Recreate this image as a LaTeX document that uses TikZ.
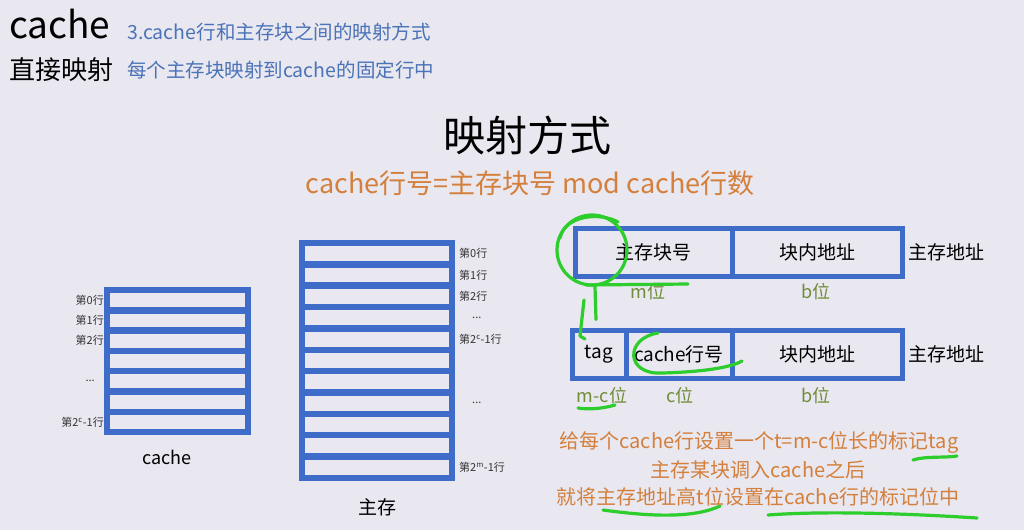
\documentclass[tikz,border=0pt]{standalone}
\usepackage{fontspec}
\setmainfont{Noto Sans CJK SC}
\usetikzlibrary{positioning}
\definecolor{bgcol}{RGB}{233,231,239}
\definecolor{boxblue}{RGB}{62,108,200}
\definecolor{txtblue}{RGB}{74,115,184}
\definecolor{txtorange}{RGB}{212,128,60}
\definecolor{txtolive}{RGB}{112,140,58}
\definecolor{pengreen}{RGB}{45,205,45}
\newcommand{\fs}[1]{\fontsize{#1}{#1}\selectfont}

\begin{document}
\begin{tikzpicture}[x=1pt,y=-1pt,node distance=3pt,
    rowbox/.style={draw=boxblue,line width=6.5pt,inner sep=0pt,outer sep=0pt},
    field/.style={draw=boxblue,line width=5pt,inner sep=0pt,outer sep=0pt,minimum height=48pt,font=\fs{19}},
    rowlabel/.style={inner sep=0pt,font=\fs{11},text=black!80},
    bits/.style={inner sep=0pt,font=\fs{18},text=txtolive},
    note/.style={inner sep=0pt,font=\fs{20},text=txtorange},
    greenpen/.style={draw=pengreen,line width=3.2pt,line cap=round,line join=round}]

    \useasboundingbox[fill=bgcol] (0,0) rectangle (1024,530);

    % heading
    \node[anchor=west,inner sep=0pt,font=\fs{37}] (cachehd) at (9,24) {cache};
    \node[anchor=west,inner sep=0pt,font=\fs{19.5},text=txtblue] (sub1) at (127,32) {3.cache行和主存块之间的映射方式};
    \node[anchor=west,inner sep=0pt,font=\fs{26}] (direct) at (9,70) {直接映射};
    \node[anchor=west,inner sep=0pt,font=\fs{19.5},text=txtblue] (sub2) at (127,70) {每个主存块映射到cache的固定行中};

    \node[inner sep=0pt,font=\fs{42}] (title) at (527,135) {映射方式};
    \node[inner sep=0pt,font=\fs{27},text=txtorange] (rule) at (530,183) {cache行号=主存块号 mod cache行数};

    % cache
    \foreach \i in {0,...,6}
        \node[rowbox,minimum width=141pt,minimum height=20.3pt] (c\i) at (177.5,{290+20.3*(\i+0.5)}) {};
    \node[rowlabel,left=of c0] {第0行};
    \node[rowlabel,left=of c1] {第1行};
    \node[rowlabel,left=of c2] {第2行};
    \node[rowlabel,left=12pt of c4] {...};
    \node[rowlabel,left=of c6] {第2\textsuperscript{c}-1行};
    \node[inner sep=0pt,font=\fs{18}] (cachelb) at (167,457) {cache};

    % main memory
    \foreach \i in {0,...,10}
        \node[rowbox,minimum width=150pt,minimum height=21.36pt] (m\i) at (377,{243+21.36*(\i+0.5)}) {};
    \node[rowlabel,right=7pt of m0] {第0行};
    \node[rowlabel,right=7pt of m1] {第1行};
    \node[rowlabel,right=7pt of m2] {第2行};
    \node[rowlabel,right=20pt of m3] {...};
    \node[rowlabel,right=7pt of m4] {第2\textsuperscript{c}-1行};
    \node[rowlabel,right=20pt of m7] {...};
    \node[rowlabel,right=7pt of m10] {第2\textsuperscript{m}-1行};
    \node[inner sep=0pt,font=\fs{19}] (memlb) at (377,507) {主存};

    % address fields
    \node[field,minimum width=157pt] (blk) at (653.5,252.5) {主存块号};
    \node[field,minimum width=170pt,right=0pt of blk] (off1) {块内地址};
    \node[inner sep=0pt,font=\fs{19},right=6pt of off1] (addr1) {主存地址};
    \node[bits] at (648,292) {m位};
    \node[bits] at (816,292) {b位};

    \node[field,minimum width=54pt] (tag) at (599,354) {tag};
    \node[field,minimum width=106pt,right=0pt of tag] (line) {cache行号};
    \node[field,minimum width=170pt,right=0pt of line] (off2) {块内地址};
    \node[inner sep=0pt,font=\fs{19},right=6pt of off2] (addr2) {主存地址};
    \node[bits] at (602,396) {m-c位};
    \node[bits] at (680,396) {c位};
    \node[bits] at (816,396) {b位};

    % notes
    \node[note] (n1) at (759,443) {给每个cache行设置一个t=m-c位长的标记tag};
    \node[note] (n2) at (758,470) {主存某块调入cache之后};
    \node[note] (n3) at (758,497) {就将主存地址高t位设置在cache行的标记位中};

    % green pen marks
    \node[greenpen,circle,minimum size=70pt] (ring) at (592,250) {};
    \draw[greenpen] (560,238) .. controls (565,215) and (600,212) .. (618,222);
    \draw[greenpen] (ring.south) ++(3,0) -- ++(1,33);
    \draw[greenpen] (584,300) -- (580,336) -- (585,339);
    \draw[greenpen] (586,285) -- (688,284);
    \draw[greenpen] (658,333) .. controls (625,338) and (625,375) .. (662,373) .. controls (700,372) and (730,368) .. (742,361);
    \draw[greenpen] (578,408) .. controls (590,410) and (605,408) .. (615,405);
    \draw[greenpen] (913,460) .. controls (925,456) and (945,458) .. (957,456);
    \draw[greenpen] (603,510) .. controls (640,515) and (690,520) .. (720,506);
    \draw[greenpen] (768,515) .. controls (820,511) and (900,513) .. (977,518);
\end{tikzpicture}
\end{document}
